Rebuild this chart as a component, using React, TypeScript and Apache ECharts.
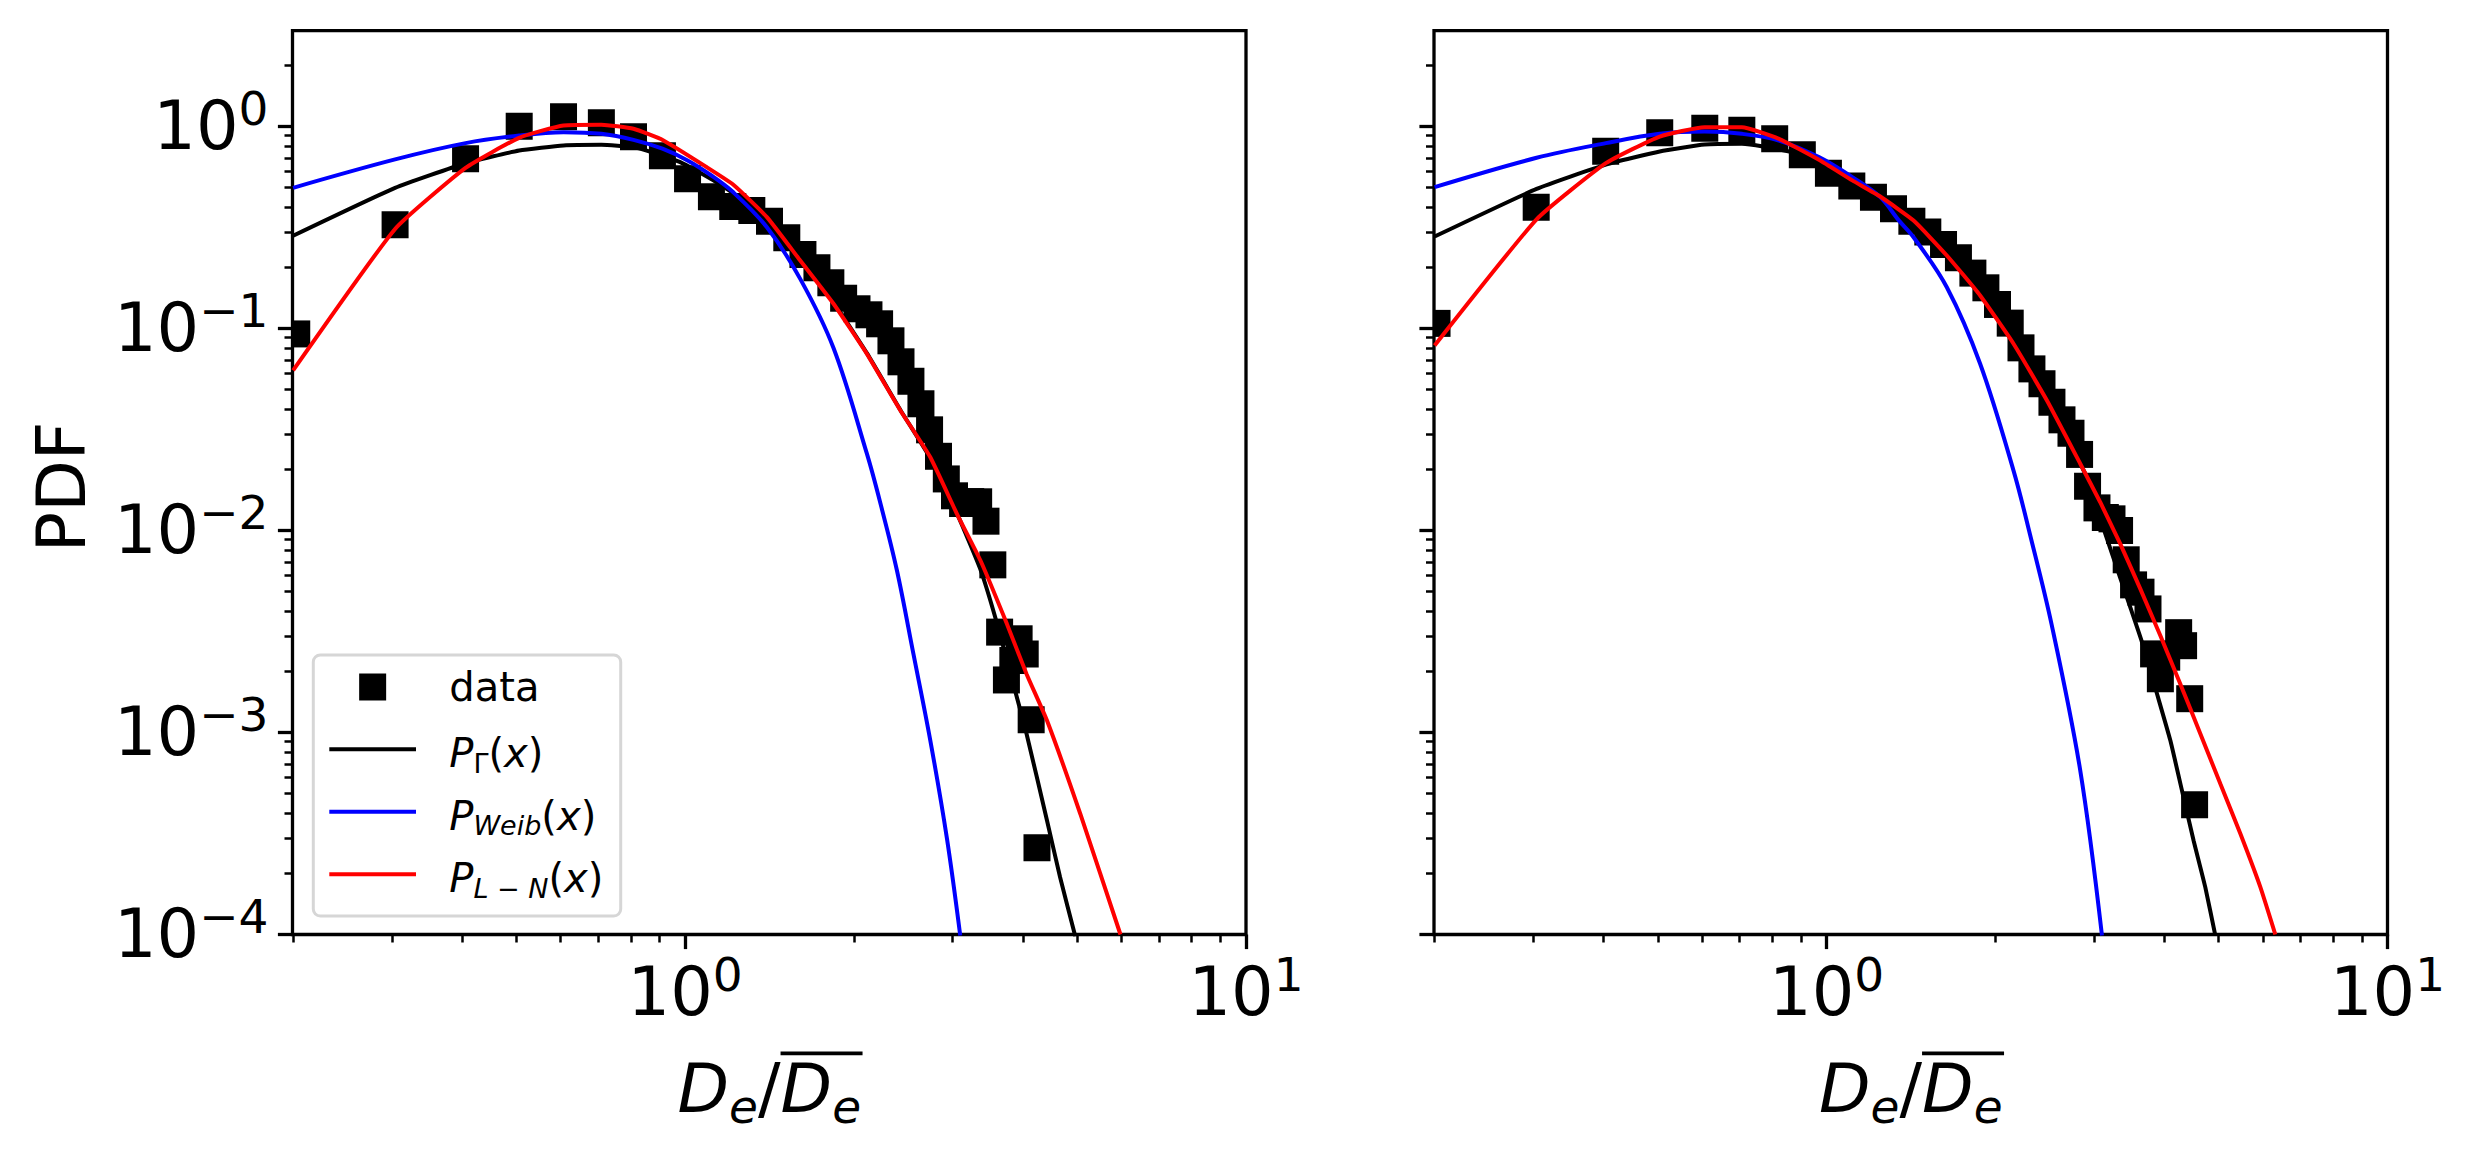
import React, { useEffect, useRef } from 'react';
import * as echarts from 'echarts';

// ---------- data ----------
const L_DATA_X = [0.203, 0.304, 0.406, 0.506, 0.607, 0.709, 0.809, 0.911, 1.01, 1.114, 1.216, 1.315, 1.414, 1.518, 1.622, 1.718, 1.819, 1.917, 2.025, 2.127, 2.222, 2.328, 2.426, 2.527, 2.633, 2.728, 2.83, 2.922, 3.022, 3.124, 3.23, 3.337, 3.439, 3.537, 3.637, 3.74, 3.84, 3.94, 4.04, 4.14, 4.24];
const L_DATA_Y = [0.094, 0.326, 0.692, 1.003, 1.117, 1.043, 0.889, 0.716, 0.551, 0.449, 0.402, 0.384, 0.34, 0.281, 0.2325, 0.1998, 0.1684, 0.1412, 0.1252, 0.1169, 0.1055, 0.0869, 0.0684, 0.0548, 0.0424, 0.0315, 0.0233, 0.018, 0.01485, 0.0136, 0.0139, 0.01387, 0.01112, 0.00676, 0.00314, 0.00182, 0.00227, 0.00291, 0.00245, 0.001156, 0.000269];

const R_DATA_X = [0.202, 0.3035, 0.4037, 0.504, 0.6064, 0.706, 0.808, 0.905, 1.0074, 1.109, 1.212, 1.316, 1.419, 1.515, 1.616, 1.718, 1.823, 1.923, 2.017, 2.125, 2.221, 2.323, 2.421, 2.522, 2.628, 2.727, 2.825, 2.919, 3.034, 3.14, 3.227, 3.329, 3.421, 3.526, 3.635, 3.741, 3.828, 3.936, 4.04, 4.243, 4.33, 4.44, 4.53];
const R_DATA_Y = [0.106, 0.3986, 0.755, 0.931, 0.981, 0.959, 0.869, 0.724, 0.587, 0.508, 0.447, 0.392, 0.34, 0.3, 0.2605, 0.224, 0.188, 0.159, 0.1315, 0.1063, 0.0802, 0.0631, 0.0532, 0.0431, 0.0353, 0.0303, 0.0238, 0.01656, 0.01294, 0.0116, 0.01142, 0.01, 0.00716, 0.00538, 0.00495, 0.00409, 0.00245, 0.001845, 0.00236, 0.00312, 0.00269, 0.00147, 0.000439];

const L_GAMMA_X = [0.2, 0.304, 0.406, 0.506, 0.607, 0.709, 0.809, 0.854, 0.98, 1.123, 1.361, 1.604, 1.839, 2.109, 2.42, 2.735, 3.073, 3.362, 3.572, 3.847, 4.062, 4.418, 4.662, 4.963];
const L_GAMMA_Y = [0.288, 0.497, 0.658, 0.76, 0.805, 0.811, 0.79, 0.76, 0.666, 0.541, 0.377, 0.222, 0.135, 0.0755, 0.0395, 0.0228, 0.01164, 0.0064, 0.00372, 0.00174, 0.000986, 0.000367, 0.000192, 0.0000977];

const L_WEIB_X = [0.2, 0.304, 0.406, 0.506, 0.607, 0.709, 0.809, 0.911, 1.01, 1.114, 1.216, 1.399, 1.604, 1.839, 2.109, 2.227, 2.386, 2.553, 2.735, 2.929, 3.094];
const L_WEIB_Y = [0.497, 0.687, 0.827, 0.902, 0.937, 0.92, 0.859, 0.776, 0.679, 0.572, 0.475, 0.317, 0.176, 0.08, 0.024, 0.0138, 0.00634, 0.00245, 0.00092, 0.0003, 0.0000989];

const L_LN_X = [0.2, 0.304, 0.406, 0.506, 0.607, 0.709, 0.809, 0.915, 1.093, 1.219, 1.399, 1.604, 1.839, 2.109, 2.42, 2.735, 3.052, 3.362, 3.747, 4.062, 4.418, 5.066, 5.973];
const L_LN_Y = [0.062, 0.311, 0.624, 0.879, 1.012, 1.02, 0.974, 0.853, 0.629, 0.515, 0.356, 0.217, 0.1326, 0.0749, 0.0393, 0.0231, 0.0121, 0.0071, 0.00345, 0.00195, 0.001146, 0.000395, 0.0001];

const R_GAMMA_X = [0.2, 0.304, 0.404, 0.504, 0.606, 0.706, 0.77, 0.9, 1.0, 1.1, 1.246, 1.429, 1.638, 1.878, 2.154, 2.471, 2.833, 2.95, 3.14, 3.478, 3.65, 3.882, 4.101, 4.301, 4.511, 4.733, 4.932];
const R_GAMMA_Y = [0.2853, 0.491, 0.648, 0.752, 0.814, 0.821, 0.796, 0.73, 0.655, 0.565, 0.455, 0.345, 0.232, 0.147, 0.085, 0.0442, 0.0214, 0.0168, 0.00963, 0.00417, 0.0028, 0.001555, 0.000912, 0.000516, 0.000292, 0.0001715, 0.0000989];

const R_WEIB_X = [0.2, 0.304, 0.404, 0.504, 0.606, 0.706, 0.822, 0.969, 1.111, 1.246, 1.346, 1.429, 1.638, 1.878, 2.154, 2.306, 2.52, 2.833, 3.097];
const R_WEIB_Y = [0.501, 0.7, 0.827, 0.92, 0.944, 0.92, 0.852, 0.705, 0.561, 0.447, 0.342, 0.283, 0.16, 0.0669, 0.0198, 0.0095, 0.0034, 0.000648, 0.0000989];

const R_LN_X = [0.2, 0.304, 0.404, 0.504, 0.606, 0.706, 0.822, 0.969, 1.111, 1.246, 1.429, 1.638, 1.878, 2.154, 2.471, 2.833, 3.075, 3.339, 3.625, 3.935, 4.272, 4.638, 5.035, 5.467, 5.934, 6.31];
const R_LN_Y = [0.0824, 0.347, 0.658, 0.892, 0.992, 0.992, 0.869, 0.684, 0.541, 0.45, 0.3424, 0.2298, 0.1457, 0.084, 0.044, 0.0214, 0.0138, 0.00859, 0.00514, 0.00302, 0.00174, 0.000986, 0.000557, 0.000315, 0.0001715, 0.0001];

// tick values
const X_MAJOR = [1, 10];
const X_MINOR = [0.2, 0.3, 0.4, 0.5, 0.6, 0.7, 0.8, 0.9, 2, 3, 4, 5, 6, 7, 8, 9];
const Y_MAJOR = [1e-4, 1e-3, 1e-2, 1e-1, 1];
const Y_MINOR: number[] = [];
[1e-4, 1e-3, 1e-2, 1e-1, 1].forEach((d) => {
  [2, 3, 4, 5, 6, 7, 8, 9].forEach((m) => {
    const v = parseFloat((m * d).toPrecision(6));
    if (v < 2.98) Y_MINOR.push(v);
  });
});

const LEGEND_LABELS = ['data', 'P_Γ(x)', 'P_Weib(x)', 'P_L−N(x)'];
const COLORS = { gamma: '#000000', weib: '#0000ff', ln: '#ff0000' };

// ---------- layout ----------
const FONT = 'DejaVu Sans';
const X_MIN = 0.1995;
const X_MAX = 10.001;
const Y_MIN = 0.99999e-4;
const Y_MAX = 2.98;
const PANEL_LEFT = [292.5, 1434];
const PANEL_TOP = 30.7;
const PANEL_W = 953.5;
const PANEL_H = 903.8;

const zip = (xs: number[], ys: number[]) => xs.map((x, i) => [x, ys[i]]);

const supLabel = (v: number) => {
  const e = Math.round(Math.log10(v));
  const s = e < 0 ? '\u2212' + -e : String(e);
  return '{b|10}{s|' + s + '}';
};

const tickRich = {
  b: { fontFamily: FONT, fontSize: 67, lineHeight: 67, verticalAlign: 'bottom', color: '#000' },
  s: { fontFamily: FONT, fontSize: 47, lineHeight: 32, height: 32, verticalAlign: 'top', color: '#000' },
};

function makeXAxes(gi: number) {
  return [
    {
      type: 'log', gridIndex: gi, min: X_MIN, max: X_MAX, position: 'bottom',
      axisLine: { show: false }, splitLine: { show: false }, minorTick: { show: false },
      axisTick: { show: true, customValues: X_MAJOR, length: 14.6, lineStyle: { color: '#000', width: 3.3 } },
      axisLabel: { show: true, customValues: X_MAJOR, margin: 24, formatter: supLabel, rich: tickRich, fontFamily: FONT, color: '#000' },
    },
    {
      type: 'log', gridIndex: gi, min: X_MIN, max: X_MAX, position: 'bottom',
      axisLine: { show: false }, splitLine: { show: false }, minorTick: { show: false },
      axisTick: { show: true, customValues: X_MINOR, length: 8, lineStyle: { color: '#000', width: 2.5 } },
      axisLabel: { show: false },
    },
  ];
}

function makeYAxes(gi: number, labels: boolean) {
  return [
    {
      type: 'log', gridIndex: gi, min: Y_MIN, max: Y_MAX, position: 'left',
      axisLine: { show: false }, splitLine: { show: false }, minorTick: { show: false },
      axisTick: { show: true, customValues: Y_MAJOR, length: 14.6, lineStyle: { color: '#000', width: 3.3 } },
      axisLabel: { show: labels, customValues: Y_MAJOR, margin: 24, formatter: supLabel, rich: tickRich, fontFamily: FONT, color: '#000' },
    },
    {
      type: 'log', gridIndex: gi, min: Y_MIN, max: Y_MAX, position: 'left',
      axisLine: { show: false }, splitLine: { show: false }, minorTick: { show: false },
      axisTick: { show: true, customValues: Y_MINOR, length: 8, lineStyle: { color: '#000', width: 2.5 } },
      axisLabel: { show: false },
    },
  ];
}

function makeSeries(gi: number, dataX: number[], dataY: number[], g: [number[], number[]], w: [number[], number[]], l: [number[], number[]]) {
  const xi = gi * 2;
  const yi = gi * 2;
  return [
    {
      type: 'custom', name: 'data', xAxisIndex: xi, yAxisIndex: yi, clip: true, z: 2,
      data: zip(dataX, dataY),
      renderItem: (_p: any, api: any) => {
        const pt = api.coord([api.value(0), api.value(1)]);
        return { type: 'rect', shape: { x: pt[0] - 13.5, y: pt[1] - 13.5, width: 27, height: 27 }, style: { fill: '#000' } };
      },
    },
    { type: 'line', name: 'gamma', xAxisIndex: xi, yAxisIndex: yi, data: zip(g[0], g[1]), symbol: 'none', clip: true, z: 3, smooth: 0.15, lineStyle: { color: COLORS.gamma, width: 4 }, itemStyle: { color: COLORS.gamma } },
    { type: 'line', name: 'weib', xAxisIndex: xi, yAxisIndex: yi, data: zip(w[0], w[1]), symbol: 'none', clip: true, z: 3, smooth: 0.35, lineStyle: { color: COLORS.weib, width: 4 }, itemStyle: { color: COLORS.weib } },
    { type: 'line', name: 'ln', xAxisIndex: xi, yAxisIndex: yi, data: zip(l[0], l[1]), symbol: 'none', clip: true, z: 3, smooth: 0.15, lineStyle: { color: COLORS.ln, width: 4 }, itemStyle: { color: COLORS.ln } },
  ];
}

function xLabelGraphics(cx: number) {
  const rich = {
    D: { fontFamily: FONT, fontStyle: 'italic', fontSize: 67, lineHeight: 67, verticalAlign: 'middle', fill: '#000' },
    e: { fontFamily: FONT, fontStyle: 'italic', fontSize: 47, lineHeight: 31, height: 31, verticalAlign: 'bottom', fill: '#000' },
    sl: { fontFamily: FONT, fontSize: 67, lineHeight: 67, verticalAlign: 'middle', fill: '#000' },
  };
  const total = 183.6;
  const barStart = cx - total / 2 + 103.1;
  return [
    { type: 'text', x: cx, y: 1055, style: { text: '{D|D}{e|e}{sl|/}{D|D}{e|e}', rich, align: 'center', verticalAlign: 'top', fontFamily: FONT, fontSize: 67 } },
    { type: 'rect', shape: { x: barStart, y: 1051.5, width: 82, height: 3.7 }, style: { fill: '#000' } },
  ];
}

function legendGraphics() {
  const rowY = [687, 749.3, 811.7, 874.3];
  const lx1 = 329.3;
  const lx2 = 416;
  const tx = 449.3;
  const rich = {
    P: { fontFamily: FONT, fontStyle: 'italic', fontSize: 40, lineHeight: 40, verticalAlign: 'middle', fill: '#000' },
    G: { fontFamily: FONT, fontSize: 27, lineHeight: 20, height: 20, verticalAlign: 'bottom', fill: '#000' },
    s: { fontFamily: FONT, fontStyle: 'italic', fontSize: 27, lineHeight: 20, height: 20, verticalAlign: 'bottom', fill: '#000' },
    n: { fontFamily: FONT, fontSize: 40, lineHeight: 40, verticalAlign: 'middle', fill: '#000' },
    x: { fontFamily: FONT, fontStyle: 'italic', fontSize: 40, lineHeight: 40, verticalAlign: 'middle', fill: '#000' },
  };
  const fmt = (sub: string, style: string) => '{P|P}{' + style + '|' + sub + '}{n|(}{x|x}{n|)}';
  const els: any[] = [
    { type: 'rect', shape: { x: 313.3, y: 655, width: 307.4, height: 261, r: 7 }, style: { fill: '#ffffff', stroke: '#d6d6d6', lineWidth: 3 }, z: 10 },
    { type: 'rect', shape: { x: (lx1 + lx2) / 2 - 13.5, y: rowY[0] - 13.5, width: 27, height: 27 }, style: { fill: '#000' }, z: 11 },
    { type: 'text', x: tx, y: rowY[0], style: { text: LEGEND_LABELS[0], fontFamily: FONT, fontSize: 40, fill: '#000', align: 'left', verticalAlign: 'middle' }, z: 11 },
  ];
  const lineColors = [COLORS.gamma, COLORS.weib, COLORS.ln];
  const subs = [['Γ', 'G'], ['Weib', 's'], ['L − N', 's']];
  for (let i = 0; i < 3; i++) {
    els.push({ type: 'line', shape: { x1: lx1, y1: rowY[i + 1], x2: lx2, y2: rowY[i + 1] }, style: { stroke: lineColors[i], lineWidth: 4 }, z: 11 });
    els.push({ type: 'text', x: tx, y: rowY[i + 1] + 4, style: { text: fmt(subs[i][0], subs[i][1]), rich, align: 'left', verticalAlign: 'middle', fontFamily: FONT, fontSize: 40 }, z: 11 });
  }
  return els;
}

export default function App() {
  const ref = useRef<HTMLDivElement>(null);
  useEffect(() => {
    if (!ref.current) return;
    const chart = echarts.init(ref.current, null, { renderer: 'svg' });
    const grid = PANEL_LEFT.map((left) => ({
      left, top: PANEL_TOP, width: PANEL_W, height: PANEL_H,
      show: true, borderColor: '#000', borderWidth: 3.3, backgroundColor: 'transparent', containLabel: false,
    }));
    const option: any = {
      animation: false,
      backgroundColor: '#ffffff',
      textStyle: { fontFamily: FONT },
      grid,
      xAxis: [...makeXAxes(0), ...makeXAxes(1)],
      yAxis: [...makeYAxes(0, true), ...makeYAxes(1, false)],
      series: [
        ...makeSeries(0, L_DATA_X, L_DATA_Y, [L_GAMMA_X, L_GAMMA_Y], [L_WEIB_X, L_WEIB_Y], [L_LN_X, L_LN_Y]),
        ...makeSeries(1, R_DATA_X, R_DATA_Y, [R_GAMMA_X, R_GAMMA_Y], [R_WEIB_X, R_WEIB_Y], [R_LN_X, R_LN_Y]),
      ],
      graphic: [
        { type: 'text', x: 62, y: 487, rotation: Math.PI / 2, style: { text: 'PDF', fontFamily: FONT, fontSize: 67, fill: '#000', align: 'center', verticalAlign: 'middle' } },
        ...xLabelGraphics(PANEL_LEFT[0] + PANEL_W / 2),
        ...xLabelGraphics(PANEL_LEFT[1] + PANEL_W / 2),
        ...legendGraphics(),
      ],
    };
    chart.setOption(option);
    return () => chart.dispose();
  }, []);
  return <div ref={ref} style={{ position: 'absolute', left: 0, top: 0, width: 2472, height: 1156, background: '#fff' }} />;
}
